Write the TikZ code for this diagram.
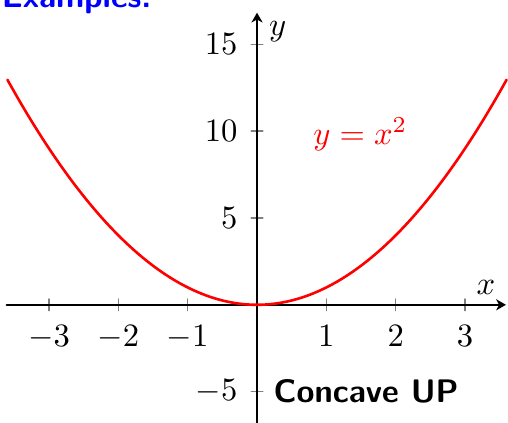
\documentclass[tikz,border=0pt]{standalone}
\usepackage{amsmath,amssymb}
\usepackage{xcolor}
\usepackage{tikz}
\usetikzlibrary{arrows.meta,positioning}
\definecolor{plotred}{HTML}{FF0000}
\definecolor{plotblue}{HTML}{0000FF}
\definecolor{plottick}{HTML}{808080}

\begin{document}
\begin{tikzpicture}[x=21.27pt, y=5.328pt, line cap=round, line join=round]
  \useasboundingbox (-3.707,-6.80) rectangle (3.620,17.55);
  % heading
  \node[anchor=base west, inner sep=0pt, plotblue, font=\bfseries\sffamily] (head) at (-3.69,17.14) {Examples:};
  % ticks
  \foreach \t in {-3,-2,-1,1,2,3}
    \draw[plottick, line width=0.4] (\t,0) ++(0,-1.8pt) -- ++(0,3.6pt);
  \foreach \t in {-5,5,10,15}
    \draw[plottick, line width=0.4] (0,\t) ++(-1.8pt,0) -- ++(3.6pt,0);
  % axes
  \draw[line width=0.6, -{Stealth[length=3pt, width=3.4pt, inset=0.9pt]}] (-3.61,0) -- (3.59,0);
  \draw[line width=0.6, -{Stealth[length=3pt, width=3.4pt, inset=0.9pt]}] (0,-6.9) -- (0,16.82);
  % tick labels
  \foreach \t in {-3,-2,-1,1,2,3}
    \node[below=6.2pt, inner sep=0pt] (xl\t) at (\t,0) {$\t$};
  \foreach \t in {-5,5,10,15}
    \node[left=5.8pt, inner sep=0pt] (yl\t) at (0,\t) {$\t$};
  \node (xlab) at (3.30,1.01) {$x$};
  \node (ylab) at (0.30,15.73) {$y$};
  % parabola
  \draw[plotred, line width=0.8, domain=-3.6:3.6, samples=100, smooth] plot (\x,{\x*\x});
  \node[plotred] (flab) at (1.49,9.83) {$y=x^2$};
  % remark
  \node[anchor=base west, inner sep=0pt, font=\bfseries\sffamily] (note) at (0.231,-5.65) {Concave UP};
\end{tikzpicture}
\end{document}
